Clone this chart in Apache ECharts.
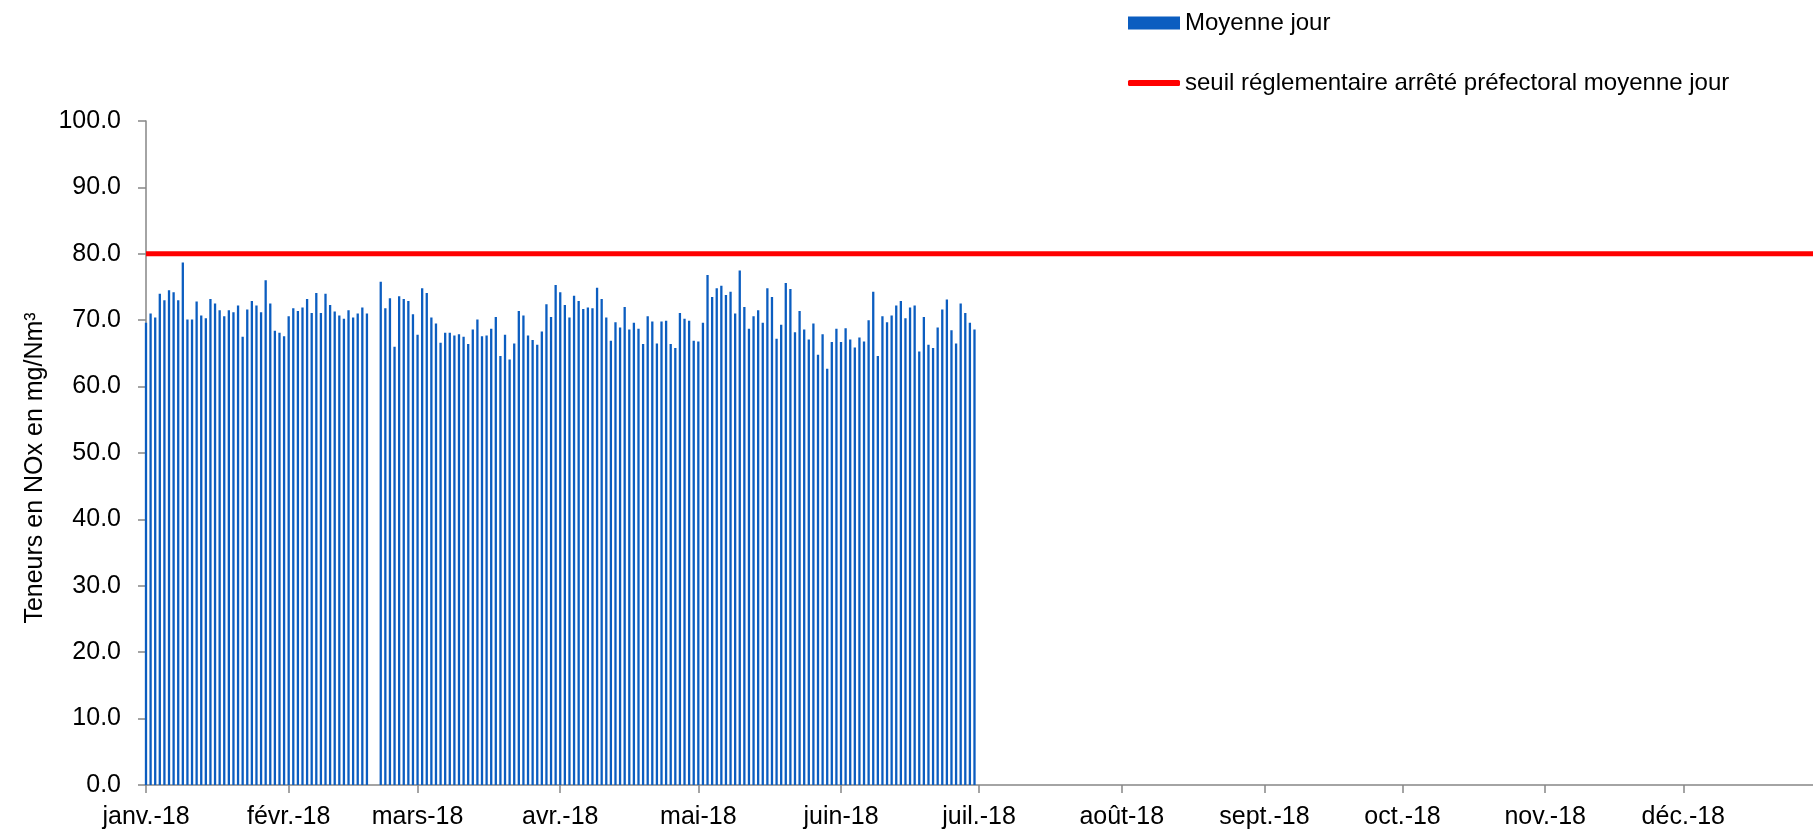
<!DOCTYPE html>
<html>
<head>
<meta charset="utf-8">
<script src="https://cdn.jsdelivr.net/npm/echarts@6/dist/echarts.min.js"></script>
<style>
  html, body { margin: 0; padding: 0; background: #fff; }
  #chart { width: 1813px; height: 834px; }
</style>
</head>
<body>
<div id="chart"></div>
<script>
// tick labels (one per month)
var monthLabels = ['janv.-18', 'févr.-18', 'mars-18', 'avr.-18', 'mai-18', 'juin-18',
  'juil.-18', 'août-18', 'sept.-18', 'oct.-18', 'nov.-18', 'déc.-18']

// moyenne jour, mg/Nm3, one value per day (null = pas de mesure)
var janValues = [69.6, 71.0, 70.4, 74.0, 73.0, 74.5, 74.2, 73.0, 78.7, 70.1, 70.1, 72.8, 70.7, 70.3, 73.2, 72.5,
  71.5, 70.6, 71.5, 71.2, 72.2, 67.5, 71.6, 72.9, 72.2, 71.2, 76.0, 72.5, 68.4, 68.1, 67.6]
var fevValues = [70.6, 71.8, 71.4, 71.9, 73.2, 71.1, 74.1, 71.1, 74.0, 72.3, 71.3, 70.7, 70.2, 71.5, 70.4, 71.0,
  71.9, 71.0, null, null, 75.8, 71.8, 73.3, 66.0, 73.6, 73.2, 72.9, 70.9]
var marValues = [67.8, 74.8, 74.1, 70.4, 69.5, 66.6, 68.1, 68.1, 67.7, 67.9, 67.5, 66.4, 68.6, 70.1, 67.6, 67.7,
  68.7, 70.5, 64.6, 67.8, 64.1, 66.5, 71.4, 70.7, 67.7, 67.0, 66.3, 68.3, 72.4, 70.5, 75.3]
var avrValues = [74.2, 72.3, 70.4, 73.7, 72.9, 71.7, 71.9, 71.8, 74.9, 73.2, 70.4, 66.9, 69.7, 68.9, 72.0, 68.6,
  69.6, 68.7, 66.4, 70.6, 69.8, 66.5, 69.8, 69.9, 66.4, 65.8, 71.1, 70.2, 69.9, 66.9]
var maiValues = [66.8, 69.6, 76.8, 73.5, 74.8, 75.2, 73.8, 74.3, 71.0, 77.5, 72.0, 68.7, 70.6, 71.5, 69.6, 74.8,
  73.5, 67.2, 69.3, 75.6, 74.7, 68.2, 71.4, 68.6, 67.1, 69.5, 64.8, 67.9, 62.7, 66.7, 68.7]
var junValues = [66.7, 68.8, 67.1, 65.9, 67.4, 66.8, 70.0, 74.3, 64.6, 70.6, 69.7, 70.7, 72.2, 72.9, 70.3, 71.9,
  72.2, 65.3, 70.5, 66.3, 65.8, 68.9, 71.6, 73.1, 68.5, 66.5, 72.5, 71.1, 69.6, 68.6]

// seuil réglementaire
var thresholdPoints = [['2018-01-01', 80], ['2019-01-01', 80]]

// categories: every day of 2018 (+ 1er janvier 2019 pour la fin d'axe)
var days = []
var d = new Date(Date.UTC(2018, 0, 1))
while (d.getTime() <= Date.UTC(2019, 0, 1)) {
  days.push(d.toISOString().slice(0, 10))
  d.setUTCDate(d.getUTCDate() + 1)
}

var dailyValues = [].concat(janValues, fevValues, marValues, avrValues, maiValues, junValues)

function isMonthStart(index, value) {
  return value.slice(8, 10) === '01'
}

var font = "'Liberation Sans', Arial, sans-serif"
var chart = echarts.init(document.getElementById('chart'))

chart.setOption({
  animation: false,
  textStyle: { fontFamily: font },
  legend: [{
    orient: 'vertical',
    left: 1128,
    top: 11,
    padding: 0,
    itemWidth: 52,
    itemHeight: 13,
    icon: 'rect',
    data: ['Moyenne jour'],
    textStyle: { fontFamily: font, fontSize: 24, color: '#000' }
  }, {
    orient: 'vertical',
    left: 1128,
    top: 71,
    padding: 0,
    itemWidth: 52,
    itemHeight: 6,
    icon: 'roundRect',
    data: ['seuil réglementaire arrêté préfectoral moyenne jour'],
    textStyle: { fontFamily: font, fontSize: 24, color: '#000' }
  }],
  grid: {
    left: 146,
    right: -13, // l'axe dépasse le bord droit comme dans l'original
    top: 121,
    bottom: 49,
    outerBoundsMode: 'none'
  },
  xAxis: {
    type: 'category',
    data: days,
    boundaryGap: false,
    axisLine: { lineStyle: { color: '#868686', width: 1.5 } },
    axisTick: {
      interval: isMonthStart,
      length: 8,
      lineStyle: { color: '#868686', width: 1.5 }
    },
    axisLabel: {
      interval: isMonthStart,
      margin: 20,
      fontSize: 25,
      fontFamily: font,
      color: '#000',
      formatter: function (value) {
        return value.slice(0, 4) === '2018' ? monthLabels[parseInt(value.slice(5, 7), 10) - 1] : ''
      }
    },
    splitLine: { show: false }
  },
  yAxis: {
    type: 'value',
    min: 0,
    max: 100,
    interval: 10,
    name: 'Teneurs en NOx en mg/Nm³',
    nameLocation: 'middle',
    nameGap: 95,
    nameTextStyle: { fontFamily: font, fontSize: 25, color: '#000', padding: [0, 30, 0, 0] },
    axisLine: { show: true, lineStyle: { color: '#868686', width: 1.5 } },
    axisTick: { show: true, length: 8, lineStyle: { color: '#868686', width: 1.5 } },
    axisLabel: {
      margin: 25,
      fontSize: 25,
      fontFamily: font,
      color: '#000',
      formatter: function (v) { return v.toFixed(1) }
    },
    splitLine: { show: false }
  },
  series: [{
    name: 'Moyenne jour',
    type: 'bar',
    data: dailyValues,
    barWidth: 2.3,
    clip: false,
    itemStyle: { color: '#0B5DC0' }
  }, {
    name: 'seuil réglementaire arrêté préfectoral moyenne jour',
    type: 'line',
    data: thresholdPoints,
    symbol: 'none',
    itemStyle: { color: '#FF0000' },
    lineStyle: { color: '#FF0000', width: 5 },
    z: 3
  }]
})
</script>
</body>
</html>
